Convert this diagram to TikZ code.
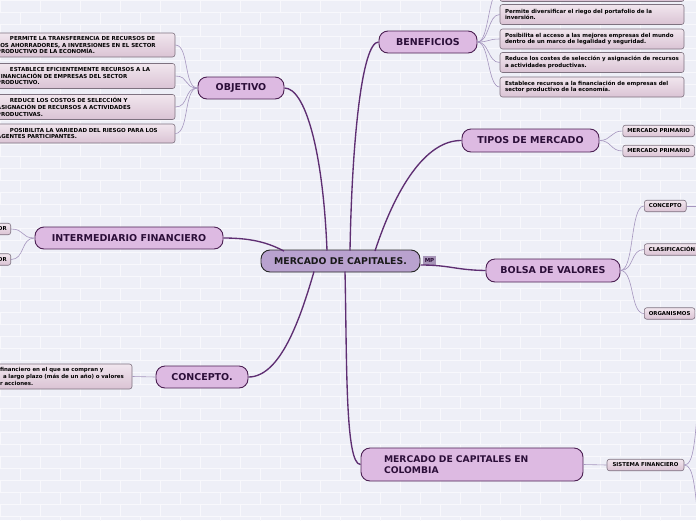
\documentclass[tikz,border=0pt]{standalone}
\usepackage{fontspec}
\setmainfont{DejaVu Sans}
\definecolor{bg}{HTML}{EEEFF7}
\definecolor{brick}{HTML}{F8F8FC}
\definecolor{mainfill}{HTML}{B9A2CF}
\definecolor{brfill}{HTML}{DDBAE2}
\definecolor{brdraw}{HTML}{4B1F52}
\definecolor{brtext}{HTML}{2B0E38}
\definecolor{leaftop}{HTML}{F1E6EE}
\definecolor{leafbot}{HTML}{DAC3D4}
\definecolor{leafdraw}{HTML}{7E7280}
\definecolor{conn}{HTML}{5E2E72}
\definecolor{thinc}{HTML}{A595BE}
\tikzset{
  mainnode/.style={draw=black!85, line width=0.9pt, fill=mainfill, rounded corners=9pt,
    font=\fontsize{9.3}{11}\selectfont\bfseries, text=black!90, inner sep=0pt},
  branch/.style={draw=brdraw, line width=0.9pt, fill=brfill, rounded corners=9pt,
    font=\fontsize{9.5}{11}\selectfont\bfseries, text=brtext, inner sep=0pt},
  leafbox/.style={draw=leafdraw, line width=0.6pt, top color=leaftop, bottom color=leafbot,
    rounded corners=2.5pt, text=black},
  bigleaf/.style={leafbox, font=\fontsize{5.5}{6.7}\selectfont\bfseries, align=left, inner ysep=1pt},
  smallleaf/.style={leafbox, font=\fontsize{5.4}{6}\selectfont\bfseries, inner xsep=4.5pt, inner ysep=0pt, minimum height=11.5pt},
  mainconn/.style={draw=conn, line width=1.35pt},
  thinconn/.style={draw=thinc, line width=0.6pt},
}
\begin{document}
\begin{tikzpicture}[x=1pt,y=-1pt]
\useasboundingbox (0,0) rectangle (696,520);
% background with brick pattern
\fill[bg] (0,0) rectangle (696,520);
\foreach \r in {0,...,43} {
  \draw[brick, line width=0.8pt] (0,\r*12) -- (696,\r*12);
  \pgfmathsetmacro\off{mod(\r,2)*20}
  \foreach \c in {0,...,18} {
    \draw[brick, line width=0.8pt] (\c*40+\off,\r*12) -- ++(0,12);
  }
}

% central node
\node[mainnode, minimum width=159pt, minimum height=22pt] (center) at (340.5,261) {MERCADO DE CAPITALES.};
\node[fill=mainfill!85!black!90, draw=none, inner sep=0pt, minimum width=13pt, minimum height=9pt,
  font=\fontsize{5.5}{6}\selectfont\bfseries, text=brtext] (mp) at (429.5,260.5) {MP};

% branch nodes
\node[branch, minimum width=98pt, minimum height=22pt] (ben) at (428,42) {BENEFICIOS};
\node[branch, minimum width=86pt, minimum height=22pt] (obj) at (241,88) {OBJETIVO};
\node[branch, minimum width=137pt, minimum height=23pt] (tip) at (530.5,140.5) {TIPOS DE MERCADO};
\node[branch, minimum width=188pt, minimum height=22pt] (int) at (129,238) {INTERMEDIARIO FINANCIERO};
\node[branch, minimum width=134pt, minimum height=23pt] (bol) at (553,270.5) {BOLSA DE VALORES};
\node[branch, minimum width=92pt, minimum height=22pt] (con) at (202,377) {CONCEPTO.};
\node[branch, minimum width=222pt, minimum height=33pt, text width=176pt, align=left, inner xsep=23pt,
  font=\fontsize{9.2}{11.5}\selectfont\bfseries] (col) at (472,464.5) {MERCADO DE CAPITALES EN\\COLOMBIA};

% objetivo leaves
\node[bigleaf, minimum width=180pt, minimum height=24pt, text width=176pt, inner xsep=2pt] (o1) at (85,45)
  {\hspace*{13pt}PERMITE LA TRANSFERENCIA DE RECURSOS DE\\LOS AHORRADORES, A INVERSIONES EN EL SECTOR\\PRODUCTIVO DE LA ECONOMÍA.};
\node[bigleaf, minimum width=180pt, minimum height=25pt, text width=176pt, inner xsep=2pt] (o2) at (85,76)
  {\hspace*{13pt}ESTABLECE EFICIENTEMENTE RECURSOS A LA\\FINANCIACIÓN DE EMPRESAS DEL SECTOR\\PRODUCTIVO.};
\node[bigleaf, minimum width=180pt, minimum height=25pt, text width=176pt, inner xsep=2pt] (o3) at (85,107)
  {\hspace*{13pt}REDUCE LOS COSTOS DE SELECCIÓN Y\\ASIGNACIÓN DE RECURSOS A ACTIVIDADES\\PRODUCTIVAS.};
\node[bigleaf, minimum width=180pt, minimum height=19pt, text width=176pt, inner xsep=2pt] (o4) at (85,133.5)
  {\hspace*{13pt}POSIBILITA LA VARIEDAD DEL RIESGO PARA LOS\\AGENTES PARTICIPANTES.};

% beneficios leaves
\node[bigleaf, minimum width=184pt, minimum height=22pt, text width=174pt, inner xsep=5pt] (b0) at (592,-9.5) {};
\node[bigleaf, minimum width=184pt, minimum height=20pt, text width=174pt, inner xsep=5pt] (b1) at (592,14.5)
  {Permite diversificar el riego del portafolio de la\\inversión.};
\node[bigleaf, minimum width=184pt, minimum height=20pt, text width=174pt, inner xsep=5pt] (b2) at (592,39)
  {Posibilita el acceso a las mejores empresas del mundo\\dentro de un marco de legalidad y seguridad.};
\node[bigleaf, minimum width=184pt, minimum height=20pt, text width=174pt, inner xsep=5pt] (b3) at (592,62.5)
  {Reduce los costes de selección y asignación de recursos\\a actividades productivas.};
\node[bigleaf, minimum width=184pt, minimum height=20pt, text width=174pt, inner xsep=5pt] (b4) at (592,87)
  {Establece recursos a la financiación de empresas del\\sector productivo de la economía.};

% tipos leaves
\node[smallleaf, anchor=west] (t1) at (622.5,131) {MERCADO PRIMARIO};
\node[smallleaf, anchor=west] (t2) at (622.5,151) {MERCADO PRIMARIO};

% bolsa leaves
\node[smallleaf, anchor=west] (bc) at (644,206) {CONCEPTO};
\node[smallleaf, anchor=west] (bk) at (644,249.5) {CLASIFICACIÓN};
\node[smallleaf, anchor=west] (bo) at (644,313.5) {ORGANISMOS};
\coordinate (bcx) at (700,206);

% intermediario leaves
\node[smallleaf, anchor=east, minimum width=30pt, inner xsep=4pt, align=right, text width=22pt] (i1) at (11,229) {OR};
\node[smallleaf, anchor=east, minimum width=30pt, inner xsep=4pt, align=right, text width=22pt] (i2) at (11,259.5) {OR};

% concepto leaf
\node[bigleaf, minimum width=140pt, minimum height=25pt, text width=138pt, inner xsep=1pt,
  font=\fontsize{5.45}{6.8}\selectfont\bfseries] (c1) at (62,376.5)
  {\hspace*{7pt}financiero en el que se compran y\\\hspace*{10pt}a largo plazo (más de un año) o valores\\\hspace*{7pt}r acciones.};

% sistema financiero
\node[smallleaf, minimum width=77pt] (sis) at (645.5,465) {SISTEMA FINANCIERO};
\coordinate (sup1) at (699,390);
\coordinate (sdn1) at (699,530);

% attachment points on center box
\coordinate (cI) at (284,251);
\coordinate (cO) at (327,250.5);
\coordinate (cB) at (350,250.5);
\coordinate (cT) at (375,251);
\coordinate (cR) at (420.5,265);
\coordinate (cC) at (314,271.5);
\coordinate (cM) at (345,271.5);

% main connectors
\draw[mainconn] (int.east) .. controls (255,238) and (270,244) .. (cI);
\draw[mainconn] (obj.east) .. controls (305,88) and (323,150) .. (cO);
\draw[mainconn] (ben.west) .. controls (362,42) and (352,140) .. (cB);
\draw[mainconn] (tip.west) .. controls (425,140) and (395,190) .. (cT);
\draw[mainconn] (cR) .. controls (450,265) and (455,270) .. (bol.west);
\draw[mainconn] (con.east) .. controls (280,377) and (300,320) .. (cC);
\draw[mainconn] (col.west) .. controls (345,465) and (347,360) .. (cM);

% thin connectors
\foreach \l in {o1,o2,o3,o4}
  \draw[thinconn] (obj.west) .. controls +(-14,0) and +(14,0) .. (\l.east);
\foreach \l in {b0,b1,b2,b3,b4}
  \draw[thinconn] (ben.east) .. controls +(12,0) and +(-12,0) .. (\l.west);
\foreach \l in {t1,t2}
  \draw[thinconn] (tip.east) .. controls +(12,0) and +(-12,0) .. (\l.west);
\foreach \l in {bc,bk,bo}
  \draw[thinconn] (bol.east) .. controls +(14,0) and +(-14,0) .. (\l.west);
\foreach \l in {i1,i2}
  \draw[thinconn] (int.west) .. controls +(-14,0) and +(14,0) .. (\l.east);
\draw[thinconn] (con.west) -- (c1.east);
\draw[thinconn] (col.east) -- (sis.west);
\draw[thinconn] (bc.east) -- (bcx);
\draw[thinconn] (sis.east) .. controls (694,465) and (695,440) .. (sup1);
\draw[thinconn] (sis.east) .. controls (694,465) and (695,490) .. (sdn1);
\end{tikzpicture}
\end{document}
